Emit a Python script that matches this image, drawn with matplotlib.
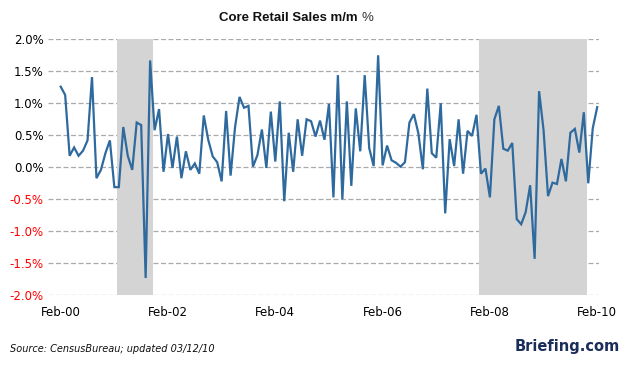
import matplotlib
matplotlib.use("Agg")
import matplotlib.pyplot as plt
import numpy as np

# Monthly core retail sales m/m %, Feb-2000 .. Feb-2010
values = [
    1.26, 1.13, 0.18, 0.31, 0.18, 0.26, 0.42, 1.41, -0.17, -0.04,
    0.22, 0.42, -0.31, -0.31, 0.63, 0.18, -0.04, 0.70, 0.66, -1.73,
    1.67, 0.58, 0.91, -0.07, 0.52, -0.01, 0.48, -0.17, 0.25, -0.04,
    0.06, -0.10, 0.81, 0.43, 0.17, 0.08, -0.22, 0.88, -0.13, 0.63,
    1.10, 0.93, 0.96, 0.01, 0.19, 0.59, -0.01, 0.87, 0.09, 1.03,
    -0.53, 0.54, -0.07, 0.75, 0.18, 0.75, 0.72, 0.48, 0.73, 0.43,
    0.99, -0.47, 1.44, -0.50, 1.03, -0.29, 0.92, 0.25, 1.44, 0.30,
    0.02, 1.75, 0.03, 0.34, 0.11, 0.07, 0.01, 0.08, 0.70, 0.83,
    0.53, -0.03, 1.23, 0.22, 0.15, 1.00, -0.72, 0.44, 0.02, 0.75,
    -0.10, 0.57, 0.49, 0.82, -0.10, -0.02, -0.47, 0.75, 0.96, 0.29,
    0.26, 0.38, -0.81, -0.89, -0.70, -0.28, -1.43, 1.19, 0.58, -0.45,
    -0.24, -0.26, 0.13, -0.22, 0.54, 0.60, 0.23, 0.86, -0.25, 0.61,
    0.94,
]
months = np.arange(len(values))  # month index from Feb-00

x_tick_pos = [0, 24, 48, 72, 96, 120]
x_tick_labels = ["Feb-00", "Feb-02", "Feb-04", "Feb-06", "Feb-08", "Feb-10"]
y_ticks = [2.0, 1.5, 1.0, 0.5, 0.0, -0.5, -1.0, -1.5, -2.0]

# shaded periods (month index, start/end)
shade_spans = [(12.6, 20.6), (93.6, 117.7)]

fig = plt.figure(figsize=(6.28, 3.69), dpi=100)
ax = fig.add_axes([48 / 628, (369 - 295.3) / 369, (599 - 48) / 628, (295.3 - 39.3) / 369])

ax.set_xlim(-2.84, 120.4)
ax.set_ylim(-2.0, 2.0)

for y in y_ticks:
    ax.axhline(y, color="#aaaaaa", lw=0.9, ls=(0, (4, 2)), zorder=1)

for s, e in shade_spans:
    ax.axvspan(s, e, color="#d4d4d4", zorder=2, lw=0)

ax.plot(months, values, color="#2f6a9f", lw=1.6, zorder=3, solid_joinstyle="miter")

for sp in ax.spines.values():
    sp.set_visible(False)
ax.tick_params(length=0)

ax.set_yticks(y_ticks)
ax.set_yticklabels([f"{v:.1f}%" for v in y_ticks], fontsize=8.5)
for lbl, v in zip(ax.get_yticklabels(), y_ticks):
    lbl.set_color("#ff0000" if v < 0 else "black")
ax.tick_params(axis="y", pad=3)

ax.set_xticks(x_tick_pos)
ax.set_xticklabels(x_tick_labels, fontsize=8.5)
ax.tick_params(axis="x", pad=8)

fig.text(358 / 628, 0.95, "Core Retail Sales m/m", ha="right", va="center",
         fontsize=9.5, fontweight="bold", color="#111111", family="Liberation Sans")
fig.text(361 / 628, 0.95, "%", ha="left", va="center",
         fontsize=9.5, color="#333333", family="Liberation Sans")
fig.text(10 / 628, 1 - 349 / 369, "Source: CensusBureau; updated 03/12/10",
         ha="left", va="center", fontsize=7, style="italic", color="#111111")
fig.text(620 / 628, 1 - 347 / 369, "Briefing.com", ha="right", va="center",
         fontsize=10.5, fontweight="bold", color="#1b2d5a")

fig.savefig("out.png", dpi=100)
